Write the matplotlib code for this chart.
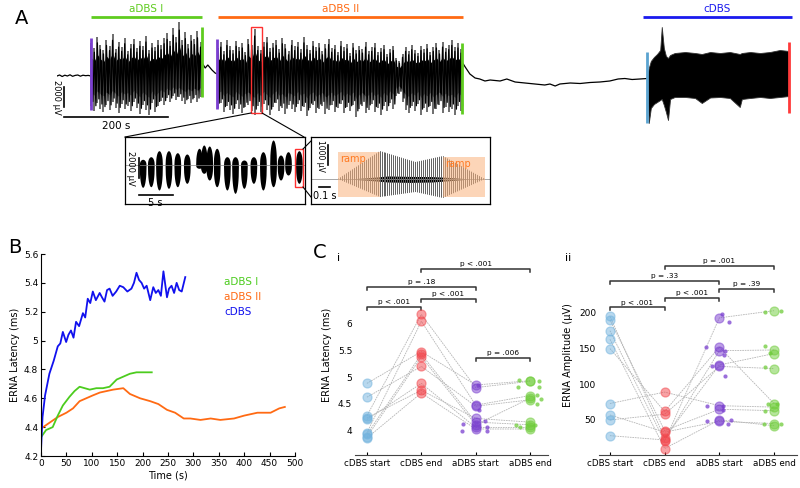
import numpy as np
import matplotlib.pyplot as plt
from matplotlib.patches import Rectangle, Polygon

W, H = 800, 488

# ---------------- data ----------------
# Panel A: epochs (s) and raw-trace envelopes (uV)
epoch_names = ['aDBS I', 'aDBS II', 'cDBS']
epoch_start = [65, 310, 1127]
epoch_end = [278, 781, 1413]
epoch_colors = ['#5fcc1f', '#ff6a13', '#1a1aee']

pre_t = [0, 5, 10, 15, 20, 25, 30, 35, 40, 45, 50, 55, 60, 65]
pre_v = [0, 100, -50, 80, 0, 120, -30, 60, 100, -20, 80, 30, 60, 0]
gap_t = [278, 285, 290, 298, 304, 308]
gap_v = [1400, 800, 1100, 600, 300, 200]
post_t = [779, 785, 794, 804, 813, 823, 833, 852, 865, 881, 900, 919, 938, 948, 958,
          967, 987, 1006, 1025, 1044, 1063, 1079, 1092, 1106, 1121, 1135]
post_v = [1400, 900, 200, -200, -300, -500, -400, -500, -300, -600, -700, -800, -900,
          -800, -1000, -800, -700, -750, -650, -600, -500, -300, -250, -350, -300, -250]

adbs1_top = [3300, 2800, 3900, 3100, 2600, 3600, 3000, 4200, 2700, 3400, 2900, 3800, 2500,
             3200, 3700, 2800, 3500, 3000, 4000, 2600, 3300, 2900, 3600, 3100, 3800, 4300,
             3500, 4800, 3900, 5400, 3600, 4400, 3200, 4100, 3700, 4500, 3400]
adbs1_bot = [-3000, -3500, -2700, -3300, -3600, -2900, -3400, -2600, -3200, -3700, -2800,
             -3300, -3000, -3500, -2600, -3200, -3800, -2900, -3400, -3900, -2700, -3600,
             -3000, -2500, -2900, -2200, -2600, -2000, -2400, -2100, -2500, -2800, -2300,
             -2700, -2200, -2600, -2100]
adbs2_top = [2800, 3400, 2500, 3600, 3000, 2600, 3500, 2900, 3300, 2400, 3700, 3100, 4700,
             3000, 2600, 3400, 3900, 2800, 3300, 3600, 2700, 3800, 3200, 2500, 3600, 3000,
             3400, 2700, 3900, 3100, 2600, 3500, 2900, 3300, 2500, 3200, 3700, 2800, 3100,
             2400, 3500, 2900, 3200, 2300, 3300, 2600, 3000, 2700, 3400, 2500, 2900, 3300,
             2400, 2800, 3100, 2200, 2700, 3000, 1800, 1500, 2200, 2900, 2500, 3100, 2600,
             2300, 3000, 2700, 3200, 2400, 2900, 3300, 2600, 3400, 2800, 3100, 3600, 2900,
             3300, 2700]
adbs2_bot = [-3200, -2700, -3600, -3000, -3400, -3800, -2800, -3300, -3700, -3100, -2900,
             -3500, -3900, -3000, -3600, -2800, -3400, -3900, -3100, -2700, -3500, -3200,
             -3800, -2900, -3300, -3600, -2800, -3500, -3100, -4000, -3200, -2900, -3700,
             -3300, -3000, -3800, -3400, -2900, -3600, -3200, -2800, -3700, -3100, -3500,
             -2900, -4100, -3300, -3000, -3700, -3400, -2800, -3600, -3200, -3900, -3000,
             -3500, -2700, -3300, -2000, -1800, -2600, -3400, -3700, -3000, -3500, -2800,
             -3900, -3200, -3600, -3000, -3800, -3300, -2900, -3700, -3100, -3600, -3300,
             -3900, -3000, -3500]

cdbs_t = [1135, 1138, 1142, 1148, 1154, 1160, 1163, 1167, 1171, 1175, 1179, 1188, 1208,
          1227, 1240, 1256, 1275, 1294, 1313, 1317, 1333, 1352, 1371, 1390, 1408]
cdbs_top = [0, 800, 1500, 1900, 2200, 2600, 4900, 2800, 2000, 1800, 2100, 2300, 2400,
            2300, 2200, 2400, 2300, 2400, 2200, 2300, 2400, 2300, 2400, 2600, 2500]
cdbs_bot = [0, -4700, -3200, -2800, -2600, -2400, -2300, -2900, -3600, -4400, -2300, -2100,
            -2100, -2200, -2700, -2150, -2100, -2200, -3100, -2300, -2200, -2100, -2200,
            -2100, -2000]

marker_t = [65, 278, 308, 779, 1135, 1408]
marker_top = [3800, 4900, 3700, 3300, 2400, 3400]
marker_bot = [-3400, -2100, -3300, -3800, -4700, -3700]
marker_colors = ['#7b3fd0', '#5fcc1f', '#7b3fd0', '#5fcc1f', '#5ba3d0', '#ff3a3a']

# inset 1 bursts (s, uV)
burst_t = [2.6, 3.8, 5.0, 6.4, 7.7, 9.1, 10.9, 11.6, 12.4, 13.5, 15.0, 16.2, 17.5, 18.9,
           20.3, 21.8, 22.9, 24.0, 25.6]
burst_top = [570, 830, 1430, 1430, 1230, 1100, 1670, 2000, 1900, 1670, 830, 830, 500, 830,
             1330, 2500, 1000, 1330, 1430]
burst_bot = [-2230, -2170, -2500, -2330, -2170, -1830, -330, -830, -1500, -2170, -2500,
             -2830, -2330, -1830, -2500, -2170, -1500, -1000, -1830]

# inset 2 (s, uV)
ramp_start = [0.245, 1.2]
ramp_end = [0.627, 1.58]
ramp_top = [1350, 1100]
ramp_bot = [-900, -900]
env_t = [0.245, 0.627, 0.95, 1.2, 1.58]
env_top = [0, 1400, 850, 1150, 0]
env_bot = [0, -900, -650, -950, 0]
erna_t = [0.35, 0.55, 0.7, 0.9, 1.1, 1.25, 1.45]
erna_top = [0, 80, 150, 130, 120, 80, 0]
erna_bot = [0, -80, -150, -170, -150, -90, 0]
stim_period = 0.018

# Panel B
cdbs_lat_t = [0, 3, 8, 16.5, 25, 33, 38, 43, 49.5, 54, 59, 64, 69, 75, 82.5, 87, 92, 97,
              102, 108, 115.5, 120, 125, 130, 135, 141, 148, 155, 162, 170, 178, 183, 188,
              193, 198, 203, 208, 215, 221, 226, 231, 236, 241, 248, 252, 257, 262, 267,
              272, 277, 284]
cdbs_lat = [4.24, 4.47, 4.62, 4.77, 4.86, 4.96, 4.98, 5.06, 4.99, 5.04, 5.07, 5.02, 5.13,
            5.10, 5.19, 5.16, 5.29, 5.26, 5.34, 5.28, 5.33, 5.30, 5.27, 5.35, 5.36, 5.31,
            5.34, 5.38, 5.37, 5.34, 5.36, 5.40, 5.47, 5.42, 5.40, 5.36, 5.38, 5.28, 5.37,
            5.33, 5.35, 5.31, 5.48, 5.30, 5.36, 5.38, 5.33, 5.40, 5.35, 5.34, 5.44]
adbs1_lat_t = [0, 10, 23, 33, 43, 56, 66, 76, 86, 96, 109, 122, 135, 149, 162, 175, 188,
               201, 218]
adbs1_lat = [4.33, 4.38, 4.40, 4.48, 4.55, 4.61, 4.65, 4.68, 4.67, 4.66, 4.67, 4.67, 4.68,
             4.73, 4.75, 4.77, 4.78, 4.78, 4.78]
adbs2_lat_t = [0, 16.5, 33, 50, 63, 76, 89, 102, 116, 129, 142, 162, 175, 195, 215, 231,
               248, 264, 281, 294, 314, 334, 353, 380, 400, 426, 452, 469, 480]
adbs2_lat = [4.39, 4.43, 4.47, 4.50, 4.53, 4.58, 4.60, 4.62, 4.64, 4.65, 4.66, 4.67, 4.63,
             4.60, 4.58, 4.56, 4.52, 4.50, 4.46, 4.46, 4.45, 4.46, 4.45, 4.46, 4.48, 4.50,
             4.50, 4.53, 4.54]

# Panel C
conditions = ['cDBS start', 'cDBS end', 'aDBS start', 'aDBS end']
cond_colors = ['#72b3de', '#f2454b', '#7a3fcf', '#6fcc3a']

lat_cstart = [4.88, 4.62, 4.27, 4.23, 3.95, 3.92, 3.87, 4.20, 3.85]
lat_cend = [5.48, 5.20, 6.18, 4.75, 6.05, 5.43, 5.38, 4.88, 4.70]
lat_astart = [4.85, 4.45, 4.80, 4.22, 4.47, 4.15, 4.10, 4.05, 4.02]
lat_aend = [4.93, 4.57, 4.92, 4.15, 4.65, 4.10, 4.60, 4.05, 4.02]
lat_astart_small = [4.12, 3.98, 4.85, 4.38, 4.18, 4.05, 3.98]
lat_astart_dx = [-0.23, -0.25, 0.05, 0.07, 0.18, 0.20, 0.21]
lat_aend_small = [4.95, 4.82, 4.93, 4.82, 4.66, 4.58, 4.50, 4.09, 4.06, 4.09]
lat_aend_dx = [-0.21, -0.22, 0.17, 0.17, 0.13, 0.21, 0.12, -0.25, -0.18, 0.09]

amp_cstart = [195, 190, 175, 163, 150, 73, 57, 50, 28]
amp_cend = [25, 35, 20, 10, 62, 89, 33, 58, 22]
amp_astart = [127, 65, 193, 50, 152, 70, 48, 125, 147]
amp_aend = [143, 63, 203, 42, 73, 68, 45, 122, 148]
amp_astart_small = [198, 187, 152, 126, 112, 141, 146, 70, 48, 64, 50, 45, 70]
amp_astart_dx = [0.04, 0.17, -0.24, -0.13, 0.10, 0.09, 0.11, -0.23, -0.23, 0.06, 0.21,
                 0.15, 0.06]
amp_aend_small = [201, 203, 144, 154, 124, 73, 63, 44, 45, 73]
amp_aend_dx = [-0.16, 0.12, -0.07, -0.16, -0.16, -0.11, -0.16, -0.19, 0.12, 0.05]

brackets_lat = [(1, 2, 6.32, 'p < .001'), (1, 3, 6.70, 'p = .18'), (2, 3, 6.47, 'p < .001'),
                (2, 4, 7.04, 'p < .001'), (3, 4, 5.36, 'p = .006')]
brackets_amp = [(1, 2, 208, 'p < .001'), (2, 3, 221, 'p < .001'), (1, 3, 245, 'p = .33'),
                (3, 4, 234, 'p = .39'), (2, 4, 266, 'p = .001')]

# ---------------- figure ----------------
plt.rcParams['font.family'] = ['DejaVu Sans']
fig = plt.figure(figsize=(8, 4.88), dpi=100)


def px_axes(x0, y0, x1, y1):
    return fig.add_axes([x0 / W, 1 - y1 / H, (x1 - x0) / W, (y1 - y0) / H])


def fig_text(x, y, s, **kw):
    fig.text(x / W, 1 - y / H, s, **kw)


# ---- A: full recording ----
axA = px_axes(57, 0, 795, 135)
axA.set_xlim(0, 738 / 0.52)
axA.set_ylim(-5900, 7600)
axA.axis('off')

axA.plot(pre_t, pre_v, color='k', lw=0.9)
axA.plot(gap_t, gap_v, color='k', lw=0.9)
axA.plot(post_t, post_v, color='k', lw=0.9)
for tops, bots, t0, t1 in [(adbs1_top, adbs1_bot, 66, 276), (adbs2_top, adbs2_bot, 309, 777)]:
    tt = np.linspace(t0, t1, len(tops))
    dt = tt[1] - tt[0]
    tops = np.array(tops)
    bots = np.array(bots)
    axA.vlines(tt, bots, tops, color='#555555', lw=1.2)
    axA.fill_between(tt, bots * 0.55, tops * 0.55, color='k', lw=0)
    zx = np.column_stack([tt, tt + dt / 2]).ravel()
    zy = np.column_stack([tops * 0.85, bots * 0.85]).ravel()
    axA.plot(zx, zy, color='k', lw=0.9)
axA.fill_between(cdbs_t, cdbs_bot, cdbs_top, color='k', lw=0.6, edgecolor='#333333')
axA.vlines(marker_t, marker_bot, marker_top, colors=marker_colors, lw=2)

for name, s, e, c in zip(epoch_names, epoch_start, epoch_end, epoch_colors):
    axA.hlines(5900, s, e, color=c, lw=2)
    axA.text((s + e) / 2, 6750, name, color=c, ha='center', va='center', fontsize=7.5)

axA.plot([13, 13], [-1100, -3100], color='k', lw=1.2)
axA.plot([13, 213], [-4100, -4100], color='k', lw=1.2)
axA.text(113, -4500, '200 s', ha='center', va='top', fontsize=7.5)
axA.text(-1, -2100, '2000 μV', rotation=-90, ha='center', va='center', fontsize=6)

# ---- A: inset 1 ----
ax1 = px_axes(125, 137, 305, 204)
ax1.set_xlim(0, 26.5)
ax1.set_ylim(-3900, 2800)
ax1.set_xticks([])
ax1.set_yticks([])
for sp in ax1.spines.values():
    sp.set_linewidth(0.9)
ax1.axhline(0, color='#888888', lw=0.5)
s = np.linspace(-1, 1, 31)
shape = (1 - s ** 2) ** 0.45
for c, tp, bt in zip(burst_t, burst_top, burst_bot):
    ax1.fill_between(c + 0.5 * s, bt * shape, tp * shape, color='k', lw=0)
ax1.plot([2.0, 7.0], [-3000, -3000], color='k', lw=1.2)
ax1.text(4.5, -3250, '5 s', ha='center', va='top', fontsize=7)
ax1.plot([2.0, 2.0], [700, -1300], color='k', lw=1.2)
ax1.text(0.8, -300, '2000 μV', rotation=-90, ha='center', va='center', fontsize=6)

# ---- A: inset 2 ----
ax2 = px_axes(311, 137, 490, 204)
ax2.set_xlim(0, 1.627)
ax2.set_ylim(-1250, 2100)
ax2.set_xticks([])
ax2.set_yticks([])
for sp in ax2.spines.values():
    sp.set_linewidth(0.9)
ax2.axhline(0, color='#999999', lw=0.6)
env = Polygon(np.column_stack([env_t + env_t[::-1], env_top + env_bot[::-1]]),
              closed=True, facecolor='none', edgecolor='none')
ax2.add_patch(env)
pulses = ax2.vlines(np.arange(env_t[0], env_t[-1], stim_period), -1300, 2200,
                    color='#606060', lw=0.7)
pulses.set_clip_path(env)
ax2.fill_between(erna_t, erna_bot, erna_top, color='k', lw=0)
for rs, re_, rt, rb in zip(ramp_start, ramp_end, ramp_top, ramp_bot):
    ax2.add_patch(Rectangle((rs, rb), re_ - rs, rt - rb, facecolor='#fbb47f',
                            alpha=0.55, edgecolor='none', zorder=3))
    ax2.text(rs + 0.02, rt - 80, 'ramp', color='#ff7a22', ha='left', va='top',
             fontsize=7, zorder=4)
ax2.plot([0.155, 0.155], [700, 1700], color='k', lw=1.2)
ax2.text(0.09, 1150, '1000 μV', rotation=-90, ha='center', va='center', fontsize=5.5)
ax2.plot([0.073, 0.173], [-400, -400], color='k', lw=1.2)
ax2.text(0.123, -600, '0.1 s', ha='center', va='top', fontsize=7)

# ---- B ----
axB = px_axes(41, 254, 295, 456)
axB.plot(adbs2_lat_t, adbs2_lat, color='#ff6a13', lw=1.3)
axB.plot(adbs1_lat_t, adbs1_lat, color='#4ccc1e', lw=1.3)
axB.plot(cdbs_lat_t, cdbs_lat, color='#1111ee', lw=1.3)
axB.set_xlim(0, 500)
axB.set_ylim(4.2, 5.6)
axB.set_xticks(np.arange(0, 501, 50))
axB.set_yticks([4.2, 4.4, 4.6, 4.8, 5.0, 5.2, 5.4, 5.6])
axB.set_yticklabels(['4.2', '4.4', '4.6', '4.8', '5', '5.2', '5.4', '5.6'])
axB.tick_params(direction='in', length=3, labelsize=6.5, pad=2)
axB.spines[['top', 'right']].set_visible(False)
axB.set_xlabel('Time (s)', fontsize=7, labelpad=2)
axB.set_ylabel('ERNA Latency (ms)', fontsize=7, labelpad=3)
for lab, c, y in zip(['aDBS I', 'aDBS II', 'cDBS'], ['#4ccc1e', '#ff6a13', '#1111ee'],
                     [5.406, 5.30, 5.198]):
    axB.text(360, y, lab, color=c, fontsize=7.5, va='center')


# ---- C ----
def draw_c(ax, vals, small, brackets, tick_h):
    xs = [1, 2, 3, 4]
    for i in range(len(vals[0])):
        ax.plot(xs, [v[i] for v in vals], color='#b5b5b5', lw=0.6, ls=(0, (2, 1)), zorder=1)
    for k, (dx, v) in small.items():
        ax.scatter(np.array(dx) + k, v, s=9, color=cond_colors[k - 1], alpha=0.75,
                   lw=0, zorder=2)
    for x, v, c in zip(xs, vals, cond_colors):
        ax.scatter([x] * len(v), v, s=42, facecolor=c, edgecolor=c, alpha=0.5,
                   lw=0.9, zorder=3)
    for a, b, y, txt in brackets:
        ax.plot([a, a, b, b], [y - tick_h, y, y, y - tick_h], color='#333333', lw=1.1,
                clip_on=False)
        ax.text((a + b) / 2, y + tick_h * 0.5, txt, ha='center', va='bottom', fontsize=5.3)
    ax.set_xticks(xs)
    ax.set_xticklabels(conditions, fontsize=6.3)
    ax.spines[['top', 'right', 'left']].set_visible(False)
    ax.spines['bottom'].set_color('#444444')
    ax.tick_params(axis='x', direction='in', length=2.5, pad=3)
    ax.tick_params(axis='y', length=0, labelsize=6.5, pad=2)


axC1 = px_axes(355, 255, 548, 455)
axC1.set_xlim(0.78, 4.33)
axC1.set_ylim(3.53, 7.30)
draw_c(axC1, [lat_cstart, lat_cend, lat_astart, lat_aend],
       {3: (lat_astart_dx, lat_astart_small), 4: (lat_aend_dx, lat_aend_small)},
       brackets_lat, 0.06)
axC1.set_yticks([4, 4.5, 5, 5.5, 6])
axC1.set_yticklabels(['4', '4.5', '5', '5.5', '6'])
axC1.set_ylabel('ERNA Latency (ms)', fontsize=7, labelpad=4)

axC2 = px_axes(599, 255, 797, 455)
axC2.set_xlim(0.80, 4.42)
axC2.set_ylim(0.93, 281)
draw_c(axC2, [amp_cstart, amp_cend, amp_astart, amp_aend],
       {3: (amp_astart_dx, amp_astart_small), 4: (amp_aend_dx, amp_aend_small)},
       brackets_amp, 4.2)
axC2.set_yticks([50, 100, 150, 200])
axC2.set_ylabel('ERNA Amplitude (μV)', fontsize=7, labelpad=4)

# ---- overlay: zoom boxes, connectors, panel letters ----
ov = fig.add_axes([0, 0, 1, 1], zorder=10)
ov.set_xlim(0, W)
ov.set_ylim(H, 0)
ov.axis('off')
ov.patch.set_visible(False)
ov.add_patch(Rectangle((251, 27), 11, 86, fill=False, edgecolor='#ff3030', lw=1))
ov.add_patch(Rectangle((295, 149), 8, 38, fill=False, edgecolor='#ff3030', lw=1))
ov.plot([251, 125], [113, 137], color='k', lw=0.8)
ov.plot([262, 304], [113, 137], color='k', lw=0.8)
ov.plot([303, 311], [149, 141], color='k', lw=0.8)
ov.plot([303, 311], [187, 197], color='k', lw=0.8)

fig_text(15, 18, 'A', fontsize=14, va='center', ha='left')
fig_text(8, 247, 'B', fontsize=14, va='center', ha='left')
fig_text(313, 252, 'C', fontsize=14, va='center', ha='left')
fig_text(337, 258, 'i', fontsize=8, va='center', ha='left')
fig_text(565, 258, 'ii', fontsize=8, va='center', ha='left')

fig.savefig('out.png', dpi=100)
